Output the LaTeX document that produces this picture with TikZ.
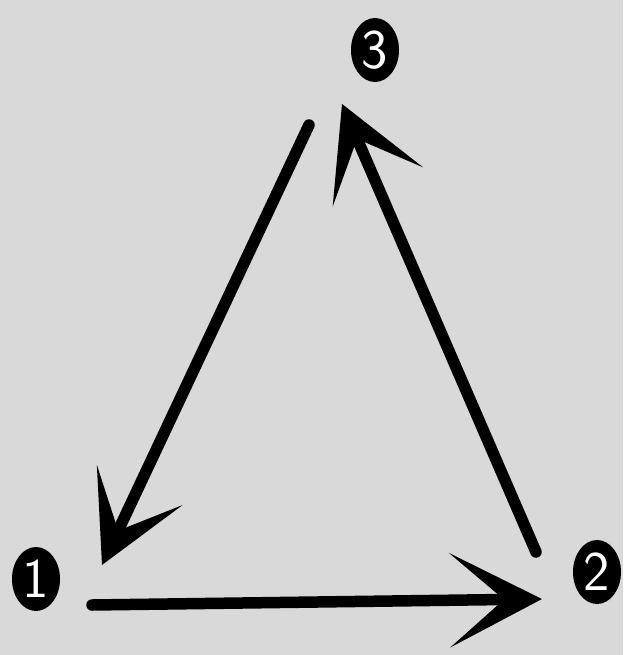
\documentclass[tikz,border=0pt]{standalone}
\usetikzlibrary{shapes.geometric,arrows.meta}
\definecolor{bg}{RGB}{217,217,217}
\tikzset{
  num/.style={ellipse, fill=black, text=white, minimum width=48pt, minimum height=64pt, inner sep=0pt, font=\sffamily\fontsize{56}{56}\selectfont},
  flow/.style={line width=11.5pt, line cap=round, draw=black},
}
\begin{document}
\begin{tikzpicture}[x=1pt,y=-1pt]
\useasboundingbox[fill=bg] (0,0) rectangle (623,655);
\node[num] (n1) at (36,579) {1};
\node[num] (n2) at (597,572) {2};
\node[num] (n3) at (375,50) {3};
\coordinate (s12) at (92,605);
\coordinate (e12) at (542,599);
\coordinate (s23) at (536,552);
\coordinate (e23) at (342,104);
\coordinate (s31) at (309,125);
\coordinate (e31) at (102,565);
\draw[flow, -{Stealth[length=92pt, width=94pt, inset=54pt]}] (s12) -- (e12);
\draw[flow, -{Stealth[length=90pt, width=98pt, inset=52pt]}] (s23) -- (e23);
\draw[flow, -{Stealth[length=88pt, width=94pt, inset=50pt]}] (s31) -- (e31);
\end{tikzpicture}
\end{document}
